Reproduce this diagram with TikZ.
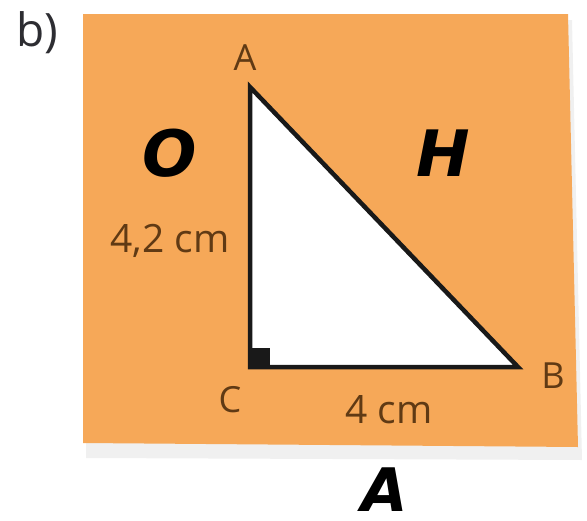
\documentclass[tikz,border=0pt]{standalone}
\usepackage{fontspec}
\setmainfont{Open Sans}
\newfontfamily\handfont{DejaVu Sans}
\definecolor{paper}{RGB}{246,168,88}
\definecolor{brownlbl}{RGB}{96,58,20}
\definecolor{darkgr}{RGB}{45,45,50}
\tikzset{
  vlabel/.style={text=brownlbl, font=\fontsize{36}{36}\selectfont, inner sep=0pt, anchor=base},
  mlabel/.style={text=brownlbl, font=\fontsize{39}{39}\selectfont, inner sep=0pt, anchor=base},
  handlbl/.style={text=black, font=\handfont\bfseries\itshape\fontsize{64}{64}\selectfont, inner sep=0pt, anchor=base},
}
\begin{document}
\begin{tikzpicture}[x=1pt,y=-1pt]
\useasboundingbox (0,0) rectangle (587,520);
% shadow
\fill[gray!12] (86,20) -- (572,20) -- (582,460) -- (86,458) -- cycle;
\fill[paper] (83,14) -- (568,14) -- (578,447) -- (83,443) -- cycle;
\node[text=darkgr, font=\fontsize{46}{46}\selectfont, inner sep=0pt, anchor=base] (lb) at (37,46) {b)};
\coordinate (A) at (250,87);
\coordinate (C) at (250,367);
\coordinate (B) at (518,367);
\fill[white] (A) -- (B) -- (C) -- cycle;
\fill[black!90] (C) rectangle ++(20,-19);
\draw[line width=4.5pt, line join=miter, black!90] (A) -- (B) -- (C) -- cycle;
\node[vlabel] (lA) at (245,70) {A};
\node[vlabel] (lB) at (553,388) {B};
\node[vlabel] (lC) at (230,412) {C};
\node[mlabel] (l42) at (170,252) {4,2 cm};
\node[mlabel] (l4) at (389,423) {4 cm};
\node[handlbl] (hO) at (170,176) {O};
\node[handlbl] (hH) at (443,176) {H};
\node[handlbl, font=\handfont\bfseries\itshape\fontsize{60}{60}\selectfont] (hA) at (385,511) {A};
\end{tikzpicture}
\end{document}
